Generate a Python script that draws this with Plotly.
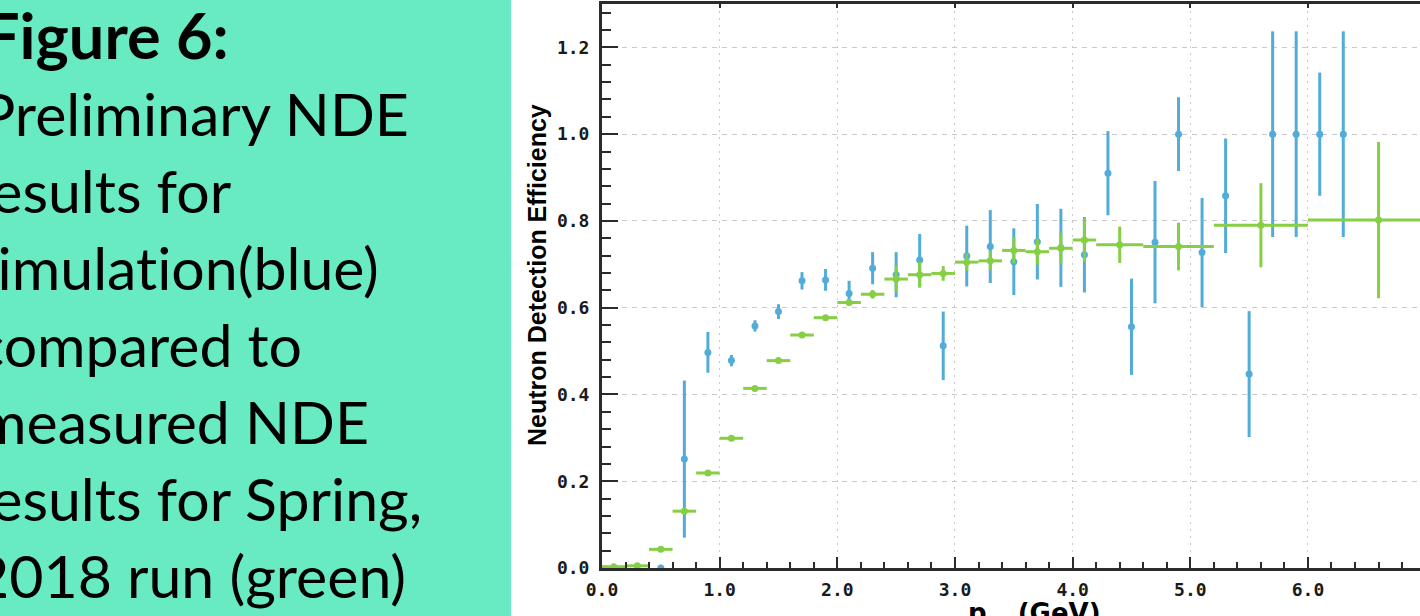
import plotly.graph_objects as go

# ---- simulation (blue): momentum bin centres, efficiency, symmetric error
sim_p = [0.5, 0.7, 0.9, 1.1, 1.3, 1.5, 1.7, 1.9, 2.1, 2.3, 2.5, 2.7, 2.9,
         3.1, 3.3, 3.5, 3.7, 3.9, 4.1, 4.3, 4.5, 4.7, 4.9, 5.1, 5.3, 5.5,
         5.7, 5.9, 6.1, 6.3]
sim_eff = [0.0, 0.251, 0.497, 0.478, 0.558, 0.591, 0.662, 0.664, 0.633, 0.691,
           0.676, 0.710, 0.512, 0.719, 0.741, 0.706, 0.752, 0.738, 0.722, 0.910,
           0.556, 0.751, 1.0, 0.727, 0.858, 0.447, 1.0, 1.0, 1.0, 1.0]
sim_err = [0.0, 0.181, 0.047, 0.013, 0.013, 0.017, 0.020, 0.025, 0.029, 0.037,
           0.052, 0.060, 0.079, 0.070, 0.084, 0.077, 0.087, 0.090, 0.087, 0.097,
           0.111, 0.141, 0.085, 0.126, 0.132, 0.145, 0.237, 0.237, 0.142, 0.237]

# ---- Spring 2018 measurement (green): bin centres, half bin widths, efficiency, error
data_p = [0.1, 0.3, 0.5, 0.7, 0.9, 1.1, 1.3, 1.5, 1.7, 1.9, 2.1, 2.3, 2.5,
          2.7, 2.9, 3.1, 3.3, 3.5, 3.7, 3.9, 4.1, 4.4, 4.9, 5.6, 6.6]
data_halfbin = [0.1, 0.1, 0.1, 0.1, 0.1, 0.1, 0.1, 0.1, 0.1, 0.1, 0.1, 0.1, 0.1,
                0.1, 0.1, 0.1, 0.1, 0.1, 0.1, 0.1, 0.1, 0.2, 0.3, 0.4, 0.6]
data_eff = [0.003, 0.005, 0.043, 0.131, 0.219, 0.299, 0.414, 0.478, 0.537, 0.577,
            0.612, 0.631, 0.666, 0.676, 0.679, 0.705, 0.708, 0.732, 0.729, 0.737,
            0.756, 0.745, 0.741, 0.790, 0.802]
data_err = [0.0, 0.0, 0.0, 0.0, 0.0, 0.0, 0.0, 0.0, 0.0, 0.0, 0.0, 0.010, 0.030,
            0.030, 0.017, 0.020, 0.022, 0.030, 0.030, 0.036, 0.050, 0.042, 0.055,
            0.097, 0.180]

# caption text (a zero-width non-joiner keeps "ti" from forming a ligature)
caption_lines = ["<b>Figure 6:</b>", "Preliminary NDE", "results for",
                 "simulat\u200cion(blue)", "compared to", "measured NDE",
                 "results for Spring,", "2018 run (green)"]

x_ticks = [0, 1, 2, 3, 4, 5, 6, 7]
y_ticks = [0.0, 0.2, 0.4, 0.6, 0.8, 1.0, 1.2]

BLUE = "#52acd8"
GREEN = "#86cf45"
PANEL = "#68eac3"
AXIS = "#2b2b2b"
GRID = "#c9c9c9"

# plot area in pixels
FIG_W, FIG_H = 1420, 616
L, R, T, B = 602, 1420, 4, 568
PW, PH = R - L, B - T


def fx(px):
    return (px - L) / PW


def fy(py):
    return (B - py) / PH


fig = go.Figure()

fig.add_trace(go.Scatter(
    x=sim_p, y=sim_eff, mode="markers",
    marker=dict(color=BLUE, size=7),
    error_y=dict(type="data", array=sim_err, color=BLUE, thickness=3, width=0),
    showlegend=False, cliponaxis=True,
))

fig.add_trace(go.Scatter(
    x=data_p, y=data_eff, mode="markers",
    marker=dict(color=GREEN, size=7),
    error_x=dict(type="data", array=data_halfbin, color=GREEN, thickness=3, width=0),
    error_y=dict(type="data", array=data_err, color=GREEN, thickness=3, width=0),
    showlegend=False, cliponaxis=True,
))

# top axis carrying only short major ticks
fig.add_trace(go.Scatter(x=[0], y=[0], xaxis="x2", mode="markers",
                         marker=dict(opacity=0), showlegend=False, hoverinfo="skip"))

tick_font = dict(family="DejaVu Sans Mono", size=18, color="#1a1a1a", weight="bold")

fig.update_layout(
    width=FIG_W, height=FIG_H, autosize=False,
    margin=dict(l=L, r=FIG_W - R, t=T, b=FIG_H - B, pad=0),
    paper_bgcolor="white", plot_bgcolor="white",
    xaxis=dict(
        range=[0, (R - L) / 117.66], tickvals=x_ticks, tickformat=".1f",
        ticks="inside", ticklen=11, tickwidth=2, tickcolor=AXIS,
        showline=True, linewidth=3, linecolor=AXIS, mirror=True,
        showgrid=True, gridcolor=GRID, griddash="2px,5px", gridwidth=1,
        zeroline=False, tickfont=tick_font, ticklabelstandoff=3,
        minor=dict(dtick=0.2, ticks="inside", ticklen=6, tickwidth=2,
                   tickcolor=AXIS, showgrid=False),
    ),
    xaxis2=dict(
        overlaying="x", side="top", matches="x", showticklabels=False,
        tickvals=x_ticks, ticks="inside", ticklen=4, tickwidth=2, tickcolor=AXIS,
        showgrid=False, zeroline=False, showline=False,
    ),
    yaxis=dict(
        range=[0, 1.3], tickvals=y_ticks, tickformat=".1f",
        ticks="inside", ticklen=16, tickwidth=2, tickcolor=AXIS,
        showline=True, linewidth=3, linecolor=AXIS, mirror=False,
        showgrid=True, gridcolor=GRID, griddash="5px,5px", gridwidth=1,
        zeroline=False, tickfont=tick_font, ticklabelstandoff=6,
        minor=dict(dtick=0.04, ticks="inside", ticklen=9, tickwidth=2,
                   tickcolor=AXIS, showgrid=False),
    ),
)

# caption panel on the left
fig.add_shape(type="rect", xref="paper", yref="paper",
              x0=fx(-20), x1=fx(511), y0=fy(FIG_H + 20), y1=fy(-20),
              fillcolor=PANEL, line=dict(width=0), layer="below")

# each caption line is set flush to its right end
baselines = [60, 137, 214, 291, 368, 445, 522, 599]
line_ends = [230, 410, 233, 380, 303, 370, 423, 407]
line_sizes = [63, 59, 59, 59, 59, 59, 59, 59]
for text, base, end, size in zip(caption_lines, baselines, line_ends, line_sizes):
    fig.add_annotation(
        text=text, xref="paper", yref="paper",
        x=fx(end + 1), y=fy(base + 0.213 * size + 1),
        xanchor="right", yanchor="bottom", showarrow=False,
        font=dict(family="Lato", size=size, color="black"),
    )

# axis titles
fig.add_annotation(
    text="<b>Neutron Detection Efficiency</b>", textangle=-90,
    xref="paper", yref="paper", x=fx(537), y=fy(275),
    xanchor="center", yanchor="middle", showarrow=False,
    font=dict(family="Liberation Sans", size=25, color="black"),
)
fig.add_annotation(
    text="<b>p<sub>n</sub>  (GeV)</b>",
    xref="paper", yref="paper", x=fx(966), y=fy(596),
    xanchor="left", yanchor="top", showarrow=False,
    font=dict(family="DejaVu Sans", size=26, color="black"),
)

fig.write_html("out.html")
